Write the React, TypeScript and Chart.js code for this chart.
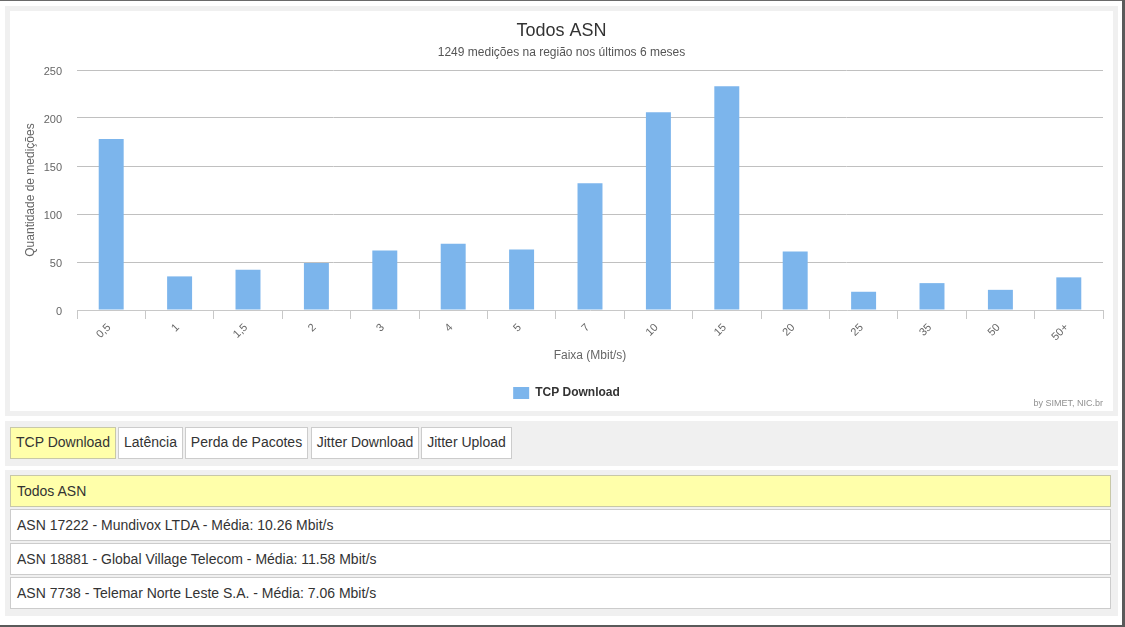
import React, { useEffect, useRef } from "react";
import { Chart, registerables } from "chart.js";

Chart.register(...registerables);

const categories = ["0,5", "1", "1,5", "2", "3", "4", "5", "7", "10", "15", "20", "25", "35", "50", "50+"];
const tcpDownload = [178, 35, 42, 49, 62, 69, 63, 132, 206, 233, 61, 19, 28, 21, 34];
const yMin = 0;
const yMax = 250;
const yStep = 50;

const chartTitle = "Todos ASN";
const chartSubtitle = "1249 medições na região nos últimos 6 meses";
const seriesName = "TCP Download";
const xTitle = "Faixa (Mbit/s)";
const yTitle = "Quantidade de medições";
const credit = "by SIMET, NIC.br";

const tabs = ["TCP Download", "Latência", "Perda de Pacotes", "Jitter Download", "Jitter Upload"];
const asnRows = [
  "Todos ASN",
  "ASN 17222 - Mundivox LTDA - Média: 10.26 Mbit/s",
  "ASN 18881 - Global Village Telecom - Média: 11.58 Mbit/s",
  "ASN 7738 - Telemar Norte Leste S.A. - Média: 7.06 Mbit/s",
];

const FONT = '"Liberation Sans", Arial, Helvetica, sans-serif';
const YELLOW = "#ffffaa";

const legendShift = {
  id: "legendShift",
  afterLayout(chart: any) {
    if (chart.legend) {
      chart.legend.left += 5;
      chart.legend.right += 5;
    }
  },
};

function BarChart() {
  const ref = useRef<HTMLCanvasElement | null>(null);
  useEffect(() => {
    if (!ref.current) return;
    Chart.defaults.font.family = FONT;
    const chart = new Chart(ref.current, {
      type: "bar",
      data: {
        labels: categories,
        datasets: [
          {
            label: seriesName,
            data: tcpDownload,
            backgroundColor: "#7cb5ec",
            borderWidth: 0,
            barPercentage: 0.365,
            categoryPercentage: 1,
          },
        ],
      },
      plugins: [legendShift],
      options: {
        responsive: false,
        animation: false,
        devicePixelRatio: 1,
        layout: { padding: { left: 10, right: 10, top: 0, bottom: 2 } },
        plugins: {
          title: {
            display: true,
            text: chartTitle,
            color: "#333333",
            font: { size: 18, weight: "normal", family: FONT },
            padding: { top: 9.2, bottom: 4 },
          },
          subtitle: {
            display: true,
            text: chartSubtitle,
            color: "#555555",
            font: { size: 12, family: FONT },
            padding: { top: 0, bottom: 9.8 },
          },
          legend: {
            position: "bottom",
            labels: {
              boxWidth: 16,
              boxHeight: 12,
              padding: 10,
              color: "#333333",
              font: { size: 12, weight: "bold", family: FONT },
            },
          },
          tooltip: { enabled: false },
        },
        scales: {
          x: {
            grid: {
              display: true,
              drawOnChartArea: false,
              drawTicks: true,
              tickLength: 9,
              color: "#c8c8c8",
              offset: true,
            },
            border: { display: true, color: "#c8c8c8" },
            ticks: {
              color: "#666666",
              font: { size: 11, family: FONT },
              minRotation: 45,
              maxRotation: 45,
              autoSkip: false,
              padding: 2,
              labelOffset: -2,
            },
            title: {
              display: true,
              text: xTitle,
              color: "#666666",
              font: { size: 12, family: FONT },
              padding: { top: 0, bottom: 13.8 },
            },
            afterFit: (s: any) => {
              s.height = 67;
            },
          },
          y: {
            min: yMin,
            max: yMax,
            ticks: {
              stepSize: yStep,
              color: "#666666",
              font: { size: 11, family: FONT },
              padding: 15,
              labelOffset: 2,
            },
            grid: {
              drawTicks: false,
              color: (ctx: any) => (ctx.tick && ctx.tick.value === 0 ? "rgba(0,0,0,0)" : "#c0c0c0"),
            },
            border: { display: false },
            title: {
              display: true,
              text: yTitle,
              color: "#666666",
              font: { size: 12, family: FONT },
              padding: { top: 3.8, bottom: 0 },
            },
            afterFit: (s: any) => {
              s.width = 57;
            },
          },
        },
      },
    });
    return () => chart.destroy();
  }, []);
  return <canvas ref={ref} width={1103} height={400} style={{ display: "block", width: 1103, height: 400 }} />;
}

export default function App() {
  const abs = (l: number, t: number, w: number, h: number): React.CSSProperties => ({
    position: "absolute",
    left: l,
    top: t,
    width: w,
    height: h,
    boxSizing: "border-box",
  });
  const tabLefts = [10, 118, 185, 311, 421];
  const tabWidths = [106, 65, 123, 108, 91];
  return (
    <div
      style={{
        position: "absolute",
        left: 0,
        top: 0,
        width: 1125,
        height: 627,
        overflow: "hidden",
        background: "#ffffff",
        fontFamily: FONT,
      }}
    >
      {/* window frame */}
      <div style={{ ...abs(0, 0, 1125, 1), background: "#6a6a6a" }} />
      <div style={{ ...abs(1122, 0, 3, 627), background: "#5a5a5a" }} />
      <div style={{ ...abs(0, 625, 1125, 2), background: "#5a5a5a" }} />

      {/* chart panel */}
      <div style={{ ...abs(5, 6, 1113, 410), background: "#f0f0f0" }} />
      <div style={{ ...abs(10, 11, 1103, 400), background: "#ffffff" }}>
        <BarChart />
        <div
          style={{
            position: "absolute",
            right: 10,
            top: 387,
            fontSize: 9,
            color: "#909090",
            whiteSpace: "nowrap",
            lineHeight: "11px",
          }}
        >
          {credit}
        </div>
      </div>

      {/* tabs panel */}
      <div style={{ ...abs(5, 421, 1113, 45), background: "#f0f0f0" }} />
      {tabs.map((t, i) => (
        <div
          key={t}
          style={{
            ...abs(tabLefts[i], 427, tabWidths[i], 32),
            background: i === 0 ? YELLOW : "#ffffff",
            border: i === 0 ? "1px solid #c8c8a8" : "1px solid #cccccc",
            fontSize: 14,
            color: "#333333",
            lineHeight: "29px",
            textAlign: "center",
            whiteSpace: "nowrap",
          }}
        >
          {t}
        </div>
      ))}

      {/* ASN list panel */}
      <div style={{ ...abs(5, 470, 1113, 146), background: "#f0f0f0" }} />
      {asnRows.map((r, i) => (
        <div
          key={r}
          style={{
            ...abs(10, 475 + i * 34, 1101, 32),
            background: i === 0 ? YELLOW : "#ffffff",
            border: i === 0 ? "1px solid #c8c8a8" : "1px solid #cccccc",
            fontSize: 14,
            color: "#333333",
            lineHeight: "30px",
            paddingLeft: 6,
            whiteSpace: "nowrap",
          }}
        >
          {r}
        </div>
      ))}
    </div>
  );
}
